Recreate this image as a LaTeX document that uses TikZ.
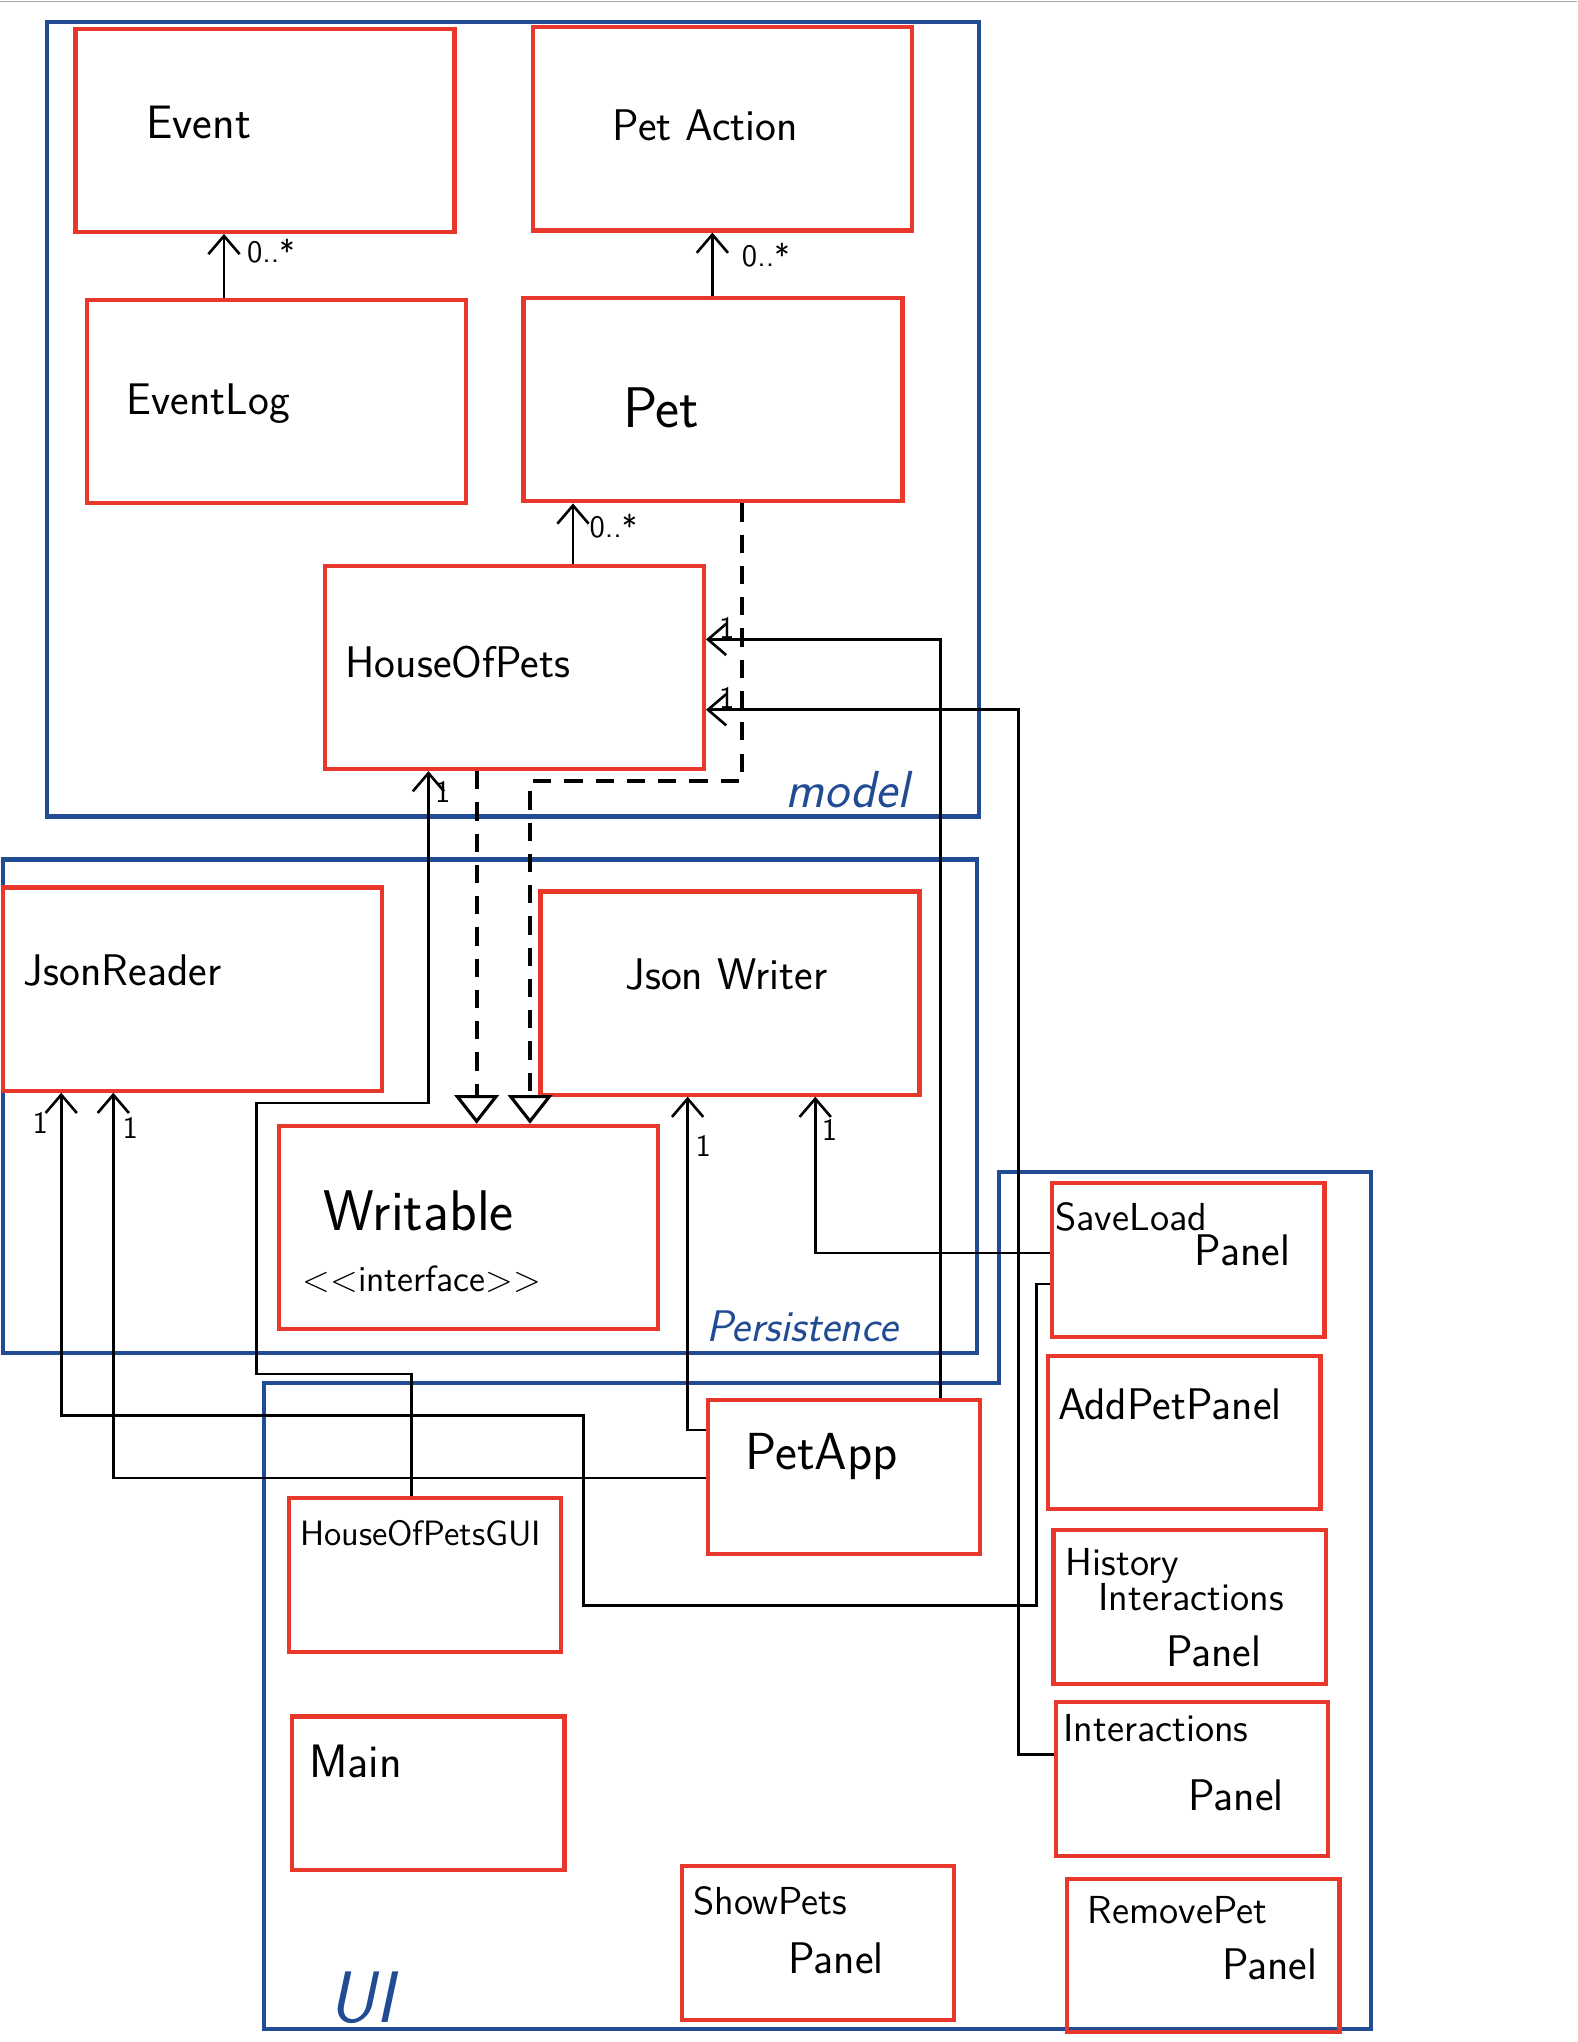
\documentclass[tikz,border=0pt]{standalone}
\usepackage{tikz}
\usetikzlibrary{positioning,arrows.meta}
\usepackage{xcolor}
\definecolor{boxred}{rgb}{0.91, 0.22, 0.17}
\definecolor{pkgblue}{rgb}{0.13, 0.30, 0.58}

\begin{document}
\begin{tikzpicture}[x=0.5pt, y=-0.5pt,
        >={Straight Barb[length=7pt,width=12pt,line width=1pt]},
        ClassBox/.style ={draw=boxred, line width=1.6pt, rectangle, inner sep=0pt,
                          minimum width=145.5pt, minimum height=78pt},
        UiBox/.style    ={ClassBox, minimum width=104.5pt, minimum height=59pt},
        Pkg/.style      ={draw=pkgblue, line width=1.6pt},
        Hand/.style     ={anchor=base west, inner sep=0pt, font=\sffamily\fontsize{17}{20}\selectfont},
        Small/.style    ={Hand, font=\sffamily\fontsize{15}{18}\selectfont},
        PkgName/.style  ={anchor=base west, inner sep=0pt, text=pkgblue,
                          font=\sffamily\itshape\fontsize{20}{24}\selectfont},
        Mult/.style     ={inner sep=0pt, font=\sffamily\fontsize{12}{14}\selectfont},
        Assoc/.style    ={draw, line width=1pt, ->},
        Realize/.style  ={draw, line width=1.6pt, dash pattern=on 7pt off 5pt,
                          -{Triangle[open,length=11pt,width=17pt,line width=1.2pt]}},
    ]
\useasboundingbox (0,0) rectangle (1211,1568);
\draw[gray!70, line width=0.6pt] (0,1) -- (1211,1);

% Packages
\draw[Pkg] (36,17) rectangle (752,627);
\node[PkgName] (lmodel) at (603,620) {model};
\draw[Pkg] (2,660) rectangle (750,1039);
\node[PkgName, font=\sffamily\itshape\fontsize{17}{20}\selectfont] (lpers) at (542,1030) {Persistence};
\draw[Pkg] (203,1558) -- (203,1062) -- (767,1062) -- (767,900) -- (1053,900) -- (1053,1558) -- cycle;
\node[PkgName, font=\sffamily\itshape\fontsize{28}{32}\selectfont] (lui) at (252,1553) {UI};

% Nodes
\node[ClassBox] (ev)  at (203.5,100)  {};
\node[ClassBox] (pa)  at (554.5,99)   {};
\node[ClassBox] (el)  at (212.5,308.5) {};
\node[ClassBox] (pet) at (547.5,307)  {};
\node[ClassBox] (hop) at (395,512.5)  {};
\node[ClassBox] (jr)  at (148,759.5)  {};
\node[ClassBox] (jw)  at (560.5,762.5) {};
\node[ClassBox] (wr)  at (360,942.5)  {};

\node[UiBox] (slp)    at (912.5,967.5) {};
\node[UiBox] (app)    at (909.5,1100)  {};
\node[UiBox] (hip)    at (913.5,1234)  {};
\node[UiBox] (ip)     at (915.5,1366)  {};
\node[UiBox] (rpp)    at (924,1501.5)  {};
\node[UiBox] (petapp) at (648,1134)    {};
\node[UiBox] (gui)    at (326.5,1209.5) {};
\node[UiBox] (main)   at (329,1377)    {};
\node[UiBox] (spp)    at (628,1492)    {};

% Names
\node[Hand, font=\sffamily\fontsize{18}{22}\selectfont] (tev) at (112,106) {Event};
\node[Hand] (tpa)  at (470,108) {Pet Action};
\node[Hand] (tel)  at (97,318)  {EventLog};
\node[Hand, font=\sffamily\fontsize{22}{26}\selectfont] (tpet) at (478,328) {Pet};
\node[Hand] (thop) at (265,520) {HouseOfPets};
\node[Hand] (tjr)  at (18,757)  {JsonReader};
\node[Hand] (tjw)  at (480,760) {Json Writer};
\node[Hand, font=\sffamily\fontsize{22}{26}\selectfont] (twr) at (248,945) {Writable};
\node[Small, font=\sffamily\fontsize{14}{17}\selectfont] (twr2) at (232,992) {<{}<interface>{}>};

\node[Small] (tslp)  at (810,945)  {SaveLoad};
\node[Hand]  (tslp2) at (917,972)  {Panel};
\node[Hand]  (tapp)  at (812,1090) {AddPetPanel};
\node[Small] (thip)  at (818,1210) {History};
\node[Small] (thip2) at (843,1237) {Interactions};
\node[Hand]  (thip3) at (895,1280) {Panel};
\node[Small] (tip)   at (816,1337) {Interactions};
\node[Hand]  (tip2)  at (912,1390) {Panel};
\node[Small] (trpp)  at (835,1477) {RemovePet};
\node[Hand]  (trpp2) at (938,1520) {Panel};
\node[Hand, font=\sffamily\fontsize{20}{24}\selectfont] (tpetapp) at (572,1128) {PetApp};
\node[Small, font=\sffamily\fontsize{13.5}{16}\selectfont] (tgui) at (230,1187) {HouseOfPetsGUI};
\node[Hand, font=\sffamily\fontsize{18}{22}\selectfont] (tmain) at (237,1365) {Main};
\node[Small] (tspp)  at (532,1470) {ShowPets};
\node[Hand]  (tspp2) at (605,1515) {Panel};

% Arrows
\draw[Assoc] (el.north -| 172,0)  -- (ev.south -| 172,0);
\draw[Assoc] (pet.north -| 547,0) -- (pa.south -| 547,0);
\draw[Assoc] (hop.north -| 440,0) -- (pet.south -| 440,0);
\node[Mult] (m1) at (208,193) {0..*};
\node[Mult] (m2) at (588,196) {0..*};
\node[Mult] (m3) at (471,404) {0..*};

\draw[Realize] (pet.south -| 570,0) -- (570,600) -| (wr.north -| 407,0);
\draw[Realize] (hop.south -| 366,0) -- (wr.north -| 366,0);

\draw[Assoc] (petapp.north -| 722,0) |- (hop.east |- 0,491);
\draw[Assoc] (ip.west |- 0,1347) -| (782,545) -- (hop.east |- 0,545);
\draw[Assoc] (gui.north -| 316,0) |- (197,1055) |- (329,847) -- (hop.south -| 329,0);
\draw[Assoc] (petapp.west |- 0,1098) -- (528,1098) -- (jw.south -| 528,0);
\draw[Assoc] (slp.west |- 0,962) -| (jw.south -| 626,0);
\draw[Assoc] (petapp.west |- 0,1135) -| (jr.south -| 87,0);
\draw[Assoc] (slp.west |- 0,986) -- (796,986) |- (448,1233) |- (47,1087) -- (jr.south -| 47,0);

\node[Mult] (o1) at (558,482)  {1};
\node[Mult] (o2) at (558,536)  {1};
\node[Mult] (o3) at (340,608)  {1};
\node[Mult] (o4) at (31,862)   {1};
\node[Mult] (o5) at (100,866)  {1};
\node[Mult] (o6) at (540,880)  {1};
\node[Mult] (o7) at (637,868)  {1};

\end{tikzpicture}
\end{document}
